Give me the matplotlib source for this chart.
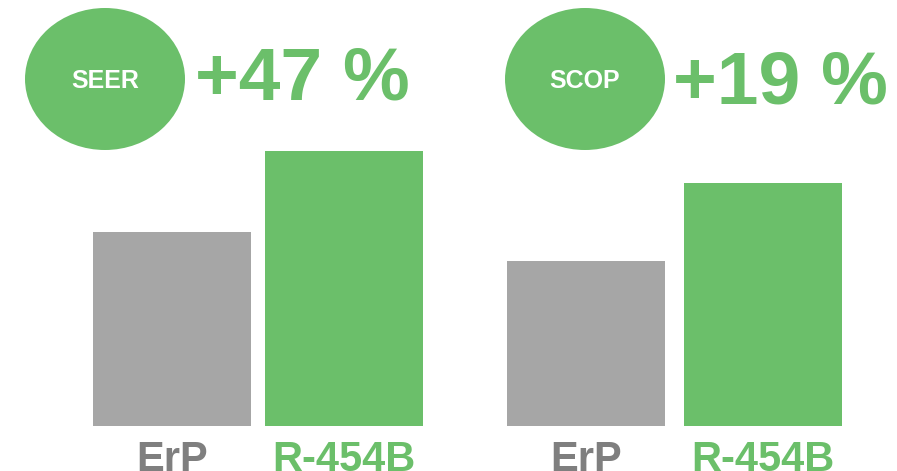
import matplotlib.pyplot as plt
from matplotlib.patches import Ellipse

plt.rcParams['font.family'] = ['Liberation Sans', 'DejaVu Sans']

# bar heights (relative units)
categories = ['ErP', 'R-454B']
seer_values = [194, 275]
scop_values = [165, 243]
metrics = ['SEER', 'SCOP']
gains = ['+47 %', '+19 %']

GREEN = '#6BBF6A'
GRAY = '#A6A6A6'
LABEL_GRAY = '#7F7F7F'

W, H = 897, 471
fig = plt.figure(figsize=(W / 100, H / 100), dpi=100)


def px(x0, y_top, w, h):
    # pixel box (from top-left) -> figure fraction rect
    return [x0 / W, (H - y_top - h) / H, w / W, h / H]


def bar_panel(rect, values, bw):
    ax = fig.add_axes(rect)
    ax.bar(range(len(values)), values, width=bw, color=[GRAY, GREEN])
    ax.set_xlim(-bw / 2, len(values) - 1 + bw / 2)
    ax.set_ylim(0, 275)
    ax.set_xticks(range(len(categories)))
    ax.set_xticklabels(categories, fontsize=30, fontweight='bold')
    for lab, c in zip(ax.get_xticklabels(), [LABEL_GRAY, GREEN]):
        lab.set_color(c)
    ax.tick_params(axis='x', length=0, pad=10)
    ax.set_yticks([])
    for s in ax.spines.values():
        s.set_visible(False)
    return ax


bar_panel(px(93, 151, 330, 275), seer_values, 158 / 172)
bar_panel(px(507, 151, 335, 275), scop_values, 158 / 177)

# badges and gain labels
badge_cx = [105, 585]
gain_x = [195, 673]
gain_base = [100, 103]
for cx, name, gain, gx, gb in zip(badge_cx, metrics, gains, gain_x, gain_base):
    e = Ellipse((cx / W, 1 - 79 / H), 160 / W, 142 / H,
                transform=fig.transFigure, color=GREEN, lw=0)
    fig.add_artist(e)
    fig.text(cx / W, 1 - 81 / H, name, color='white', fontsize=18,
             fontweight='bold', ha='center', va='center')
    fig.text(gx / W, 1 - gb / H, gain, color=GREEN, fontsize=54,
             fontweight='bold', ha='left', va='baseline')

fig.savefig('out.png', dpi=100)
